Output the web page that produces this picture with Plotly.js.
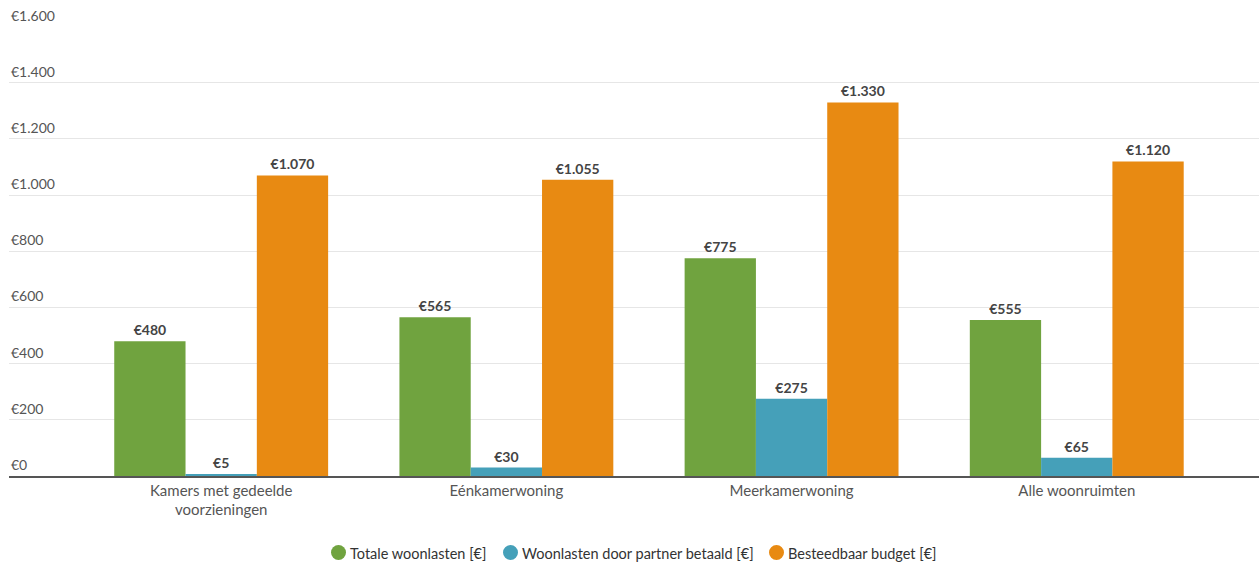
<!DOCTYPE html>
<html>
<head>
<meta charset="utf-8">
<script src="https://cdn.plot.ly/plotly-3.0.1.min.js"></script>
<style>html,body{margin:0;padding:0;background:#fff;}#chart{width:1259px;height:563px;}</style>
</head>
<body>
<div id="chart"></div>
<script>
const categories = ["Kamers met gedeelde<br>voorzieningen", "Eénkamerwoning", "Meerkamerwoning", "Alle woonruimten"];
const seriesNames = ["Totale woonlasten [€]", "Woonlasten door partner betaald [€]", "Besteedbaar budget [€]"];
const totaleWoonlasten = [480, 565, 775, 555];
const partnerBetaald = [5, 30, 275, 65];
const besteedbaarBudget = [1070, 1055, 1330, 1120];
const tickValues = [0, 200, 400, 600, 800, 1000, 1200, 1400, 1600];
const tickLabels = ["€0", "€200", "€400", "€600", "€800", "€1.000", "€1.200", "€1.400", "€1.600"];
const colors = ["#70a33f", "#45a0b9", "#e88a12"];
const seriesValues = [totaleWoonlasten, partnerBetaald, besteedbaarBudget];
const legendLeftPx = [331, 503, 769];

const font = "Lato, 'Noto Sans', sans-serif";
const traces = seriesValues.map((vals, i) => ({
  type: "bar",
  x: categories,
  y: vals,
  name: seriesNames[i],
  marker: {color: colors[i], line: {width: 0}},
  texttemplate: "€%{y:,.0f}",
  textposition: "outside",
  textfont: {family: font, size: 14, color: "#444", weight: "bold"},
  cliponaxis: false,
  showlegend: false,
  hoverinfo: "x+y"
}));

const annotations = [];
tickValues.forEach((v, i) => {
  annotations.push({
    xref: "paper", yref: "y",
    x: 0, y: v,
    xanchor: "left", yanchor: "bottom",
    yshift: 1,
    text: tickLabels[i],
    showarrow: false,
    font: {family: font, size: 14, color: "#555"}
  });
});
const shapes = [];
const legendY = -(553 - 476) / 450;
seriesNames.forEach((name, i) => {
  const xp = (legendLeftPx[i] - 9) / 1250;
  shapes.push({
    type: "circle",
    xref: "paper", yref: "paper",
    xsizemode: "pixel", ysizemode: "pixel",
    xanchor: xp, yanchor: legendY,
    x0: 0, x1: 15, y0: -7, y1: 8,
    fillcolor: colors[i],
    line: {width: 0}
  });
  annotations.push({
    xref: "paper", yref: "paper",
    x: xp, y: legendY,
    xanchor: "left", yanchor: "middle",
    xshift: 17,
    text: name,
    showarrow: false,
    font: {family: font, size: 14.5, color: "#333"}
  });
});

const layout = {
  width: 1259,
  height: 563,
  margin: {l: 9, r: 0, t: 26, b: 87},
  paper_bgcolor: "#fff",
  plot_bgcolor: "#fff",
  separators: ",.",
  barmode: "group",
  bargap: 0.25,
  bargroupgap: 0,
  font: {family: font, size: 13, color: "#555"},
  xaxis: {
    type: "category",
    range: [-0.744, 3.639],
    automargin: false,
    showgrid: false,
    showline: true,
    linecolor: "#555",
    linewidth: 1.5,
    ticks: "",
    tickfont: {family: font, size: 15, color: "#555"},
    zeroline: false,
    fixedrange: true
  },
  yaxis: {
    range: [0, 1602],
    automargin: false,
    tickvals: tickValues,
    showticklabels: false,
    showgrid: true,
    gridcolor: "#e6e6e6",
    gridwidth: 1,
    zeroline: false,
    showline: false,
    ticks: "",
    fixedrange: true
  },
  shapes: shapes,
  annotations: annotations,
  showlegend: false
};

Plotly.newPlot("chart", traces, layout, {displayModeBar: false});
</script>
</body>
</html>
